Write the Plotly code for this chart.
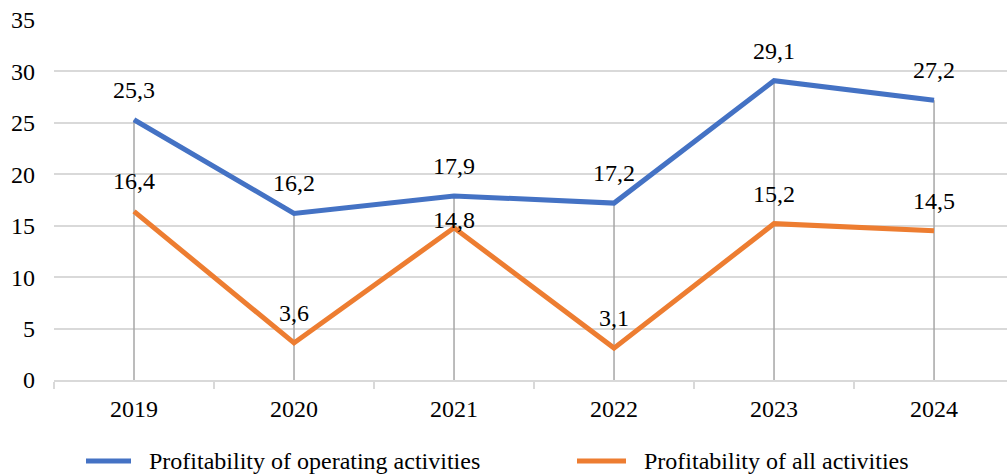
import plotly.graph_objects as go

# Chart data
years = ["2019", "2020", "2021", "2022", "2023", "2024"]
operating = [25.3, 16.2, 17.9, 17.2, 29.1, 27.2]
all_activities = [16.4, 3.6, 14.8, 3.1, 15.2, 14.5]
series_names = ["Profitability of operating activities", "Profitability of all activities"]

FONT = "Liberation Serif, Times New Roman, serif"
FS = 24
BLUE = "#4472C4"
ORANGE = "#ED7D31"
GRID = "#D9D9D9"
DROP = "#A6A6A6"

fig = go.Figure()

# Vertical drop lines from the highest point of each year down to the axis
dx, dy = [], []
for yr, a, b in zip(years, operating, all_activities):
    dx += [yr, yr, None]
    dy += [0, max(a, b), None]
fig.add_trace(go.Scatter(x=dx, y=dy, mode="lines", line=dict(color=DROP, width=1.5),
                         hoverinfo="skip", showlegend=False))

fig.add_trace(go.Scatter(x=years, y=operating, mode="lines", name=series_names[0],
                         line=dict(color=BLUE, width=5), showlegend=False))
fig.add_trace(go.Scatter(x=years, y=all_activities, mode="lines", name=series_names[1],
                         line=dict(color=ORANGE, width=5), showlegend=False))

# Value labels (comma decimal separator), placed above each point
def fmt(v):
    return f"{v:.1f}".replace(".", ",")

label_shift = {0: [30] * 6, 1: [30, 30, 8, 30, 30, 30]}
for si, vals in enumerate([operating, all_activities]):
    for i, v in enumerate(vals):
        # category axis: position annotations by category index
        fig.add_annotation(x=i, y=v, text=fmt(v), showarrow=False, yanchor="middle",
                           xanchor="center", yshift=label_shift[si][i],
                           font=dict(family=FONT, size=FS, color="#000000"))

# Legend drawn below the plot area
W, H = 1007, 475
L, T, B = 54, 20, 95
pw, ph = W - L, H - T - B

def px_x(p):
    return (p - L) / pw

def px_y(p):
    return (H - B - p) / ph

legend_items = [(series_names[0], BLUE, 86, 131, 147), (series_names[1], ORANGE, 577, 626, 642)]
for name, col, x0, x1, xt in legend_items:
    fig.add_shape(type="line", xref="paper", yref="paper", x0=px_x(x0), x1=px_x(x1),
                  y0=px_y(461), y1=px_y(461), line=dict(color=col, width=5))
    fig.add_annotation(xref="paper", yref="paper", x=px_x(xt), y=px_y(461), text=name,
                       showarrow=False, xanchor="left", yanchor="middle",
                       font=dict(family=FONT, size=FS, color="#000000"))

fig.update_layout(
    width=W, height=H,
    margin=dict(l=L, r=0, t=T, b=B),
    paper_bgcolor="white", plot_bgcolor="white",
    font=dict(family=FONT, size=FS, color="#000000"),
    showlegend=False,
)
fig.update_xaxes(type="category", range=[-0.5, 5.456], tickson="boundaries",
                 ticks="outside", ticklen=7, tickcolor=GRID, tickwidth=1.5,
                 showline=True, linecolor=GRID, linewidth=1.5, showgrid=False,
                 ticklabelstandoff=6,
                 tickfont=dict(family=FONT, size=FS, color="#000000"))
fig.update_yaxes(range=[0, 35], dtick=5, showgrid=True, gridcolor=GRID, gridwidth=1.5,
                 zeroline=False, ticks="", ticklabelstandoff=18,
                 tickfont=dict(family=FONT, size=FS, color="#000000"))

fig.write_html("out.html")
